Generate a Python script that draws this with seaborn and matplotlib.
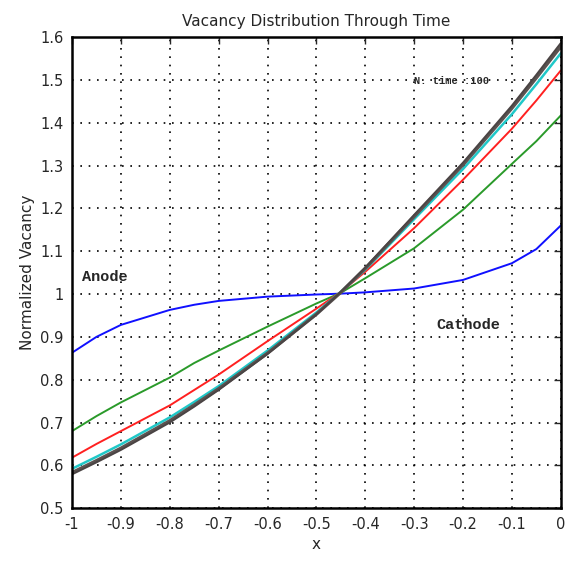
import matplotlib
matplotlib.use("Agg")
import matplotlib.pyplot as plt
import seaborn as sns
import numpy as np
import pandas as pd

x = [-1.0, -0.95, -0.9, -0.8, -0.75, -0.7, -0.6, -0.5, -0.45, -0.4, -0.3, -0.2, -0.1, -0.05, 0.0]
blue = [0.863, 0.9, 0.928, 0.963, 0.975, 0.984, 0.994, 0.999, 1.001, 1.004, 1.013, 1.033, 1.072, 1.105, 1.16]
green = [0.68, 0.715, 0.747, 0.805, 0.839, 0.868, 0.924, 0.978, 1.003, 1.037, 1.107, 1.197, 1.304, 1.357, 1.417]
red = [0.618, 0.65, 0.68, 0.74, 0.776, 0.812, 0.89, 0.966, 1.005, 1.052, 1.154, 1.267, 1.386, 1.452, 1.522]
cyan = [0.592, 0.62, 0.649, 0.712, 0.748, 0.785, 0.868, 0.957, 1.005, 1.057, 1.175, 1.292, 1.42, 1.49, 1.562]
gray1 = [0.583, 0.611, 0.64, 0.704, 0.741, 0.779, 0.862, 0.953, 1.004, 1.06, 1.181, 1.302, 1.434, 1.505, 1.578]
gray2 = [0.579, 0.607, 0.636, 0.7, 0.737, 0.776, 0.86, 0.952, 1.005, 1.062, 1.185, 1.307, 1.44, 1.512, 1.586]

series = {"blue": blue, "green": green, "red": red, "cyan": cyan, "gray1": gray1, "gray2": gray2}
colors = {"blue": "#1010ff", "green": "#2a9a2a", "red": "#ff2020", "cyan": "#20c8c8",
          "gray1": "#5a5250", "gray2": "#4a4444"}
widths = {"blue": 1.4, "green": 1.4, "red": 1.4, "cyan": 1.8, "gray1": 2.4, "gray2": 1.4}

sns.set_style("white")
plt.rcParams["font.family"] = ["DejaVu Sans"]

fig = plt.figure(figsize=(5.67, 5.71), dpi=100)
ax = fig.add_axes([0.127, 0.110, 0.862, 0.825])

for name, vals in series.items():
    df = pd.DataFrame({"x": x, "y": vals})
    sns.lineplot(data=df, x="x", y="y", ax=ax, color=colors[name], lw=widths[name], legend=False)

ax.set_xlim(-1, 0)
ax.set_ylim(0.5, 1.6)
xt = np.round(np.arange(-1, 0.001, 0.1), 1)
yt = np.round(np.arange(0.5, 1.601, 0.1), 1)
ax.set_xticks(xt)
ax.set_xticklabels(["-1", "-0.9", "-0.8", "-0.7", "-0.6", "-0.5", "-0.4", "-0.3", "-0.2", "-0.1", "0"])
ax.set_yticks(yt)
ax.set_yticklabels(["0.5", "0.6", "0.7", "0.8", "0.9", "1", "1.1", "1.2", "1.3", "1.4", "1.5", "1.6"])
ax.grid(True, color="black", linestyle=(0, (1, 4)), linewidth=1.2)
ax.tick_params(direction="in", top=True, right=True, length=5, width=1, labelsize=10.5, pad=6)
for s in ax.spines.values():
    s.set_color("black")
    s.set_linewidth(1.8)

ax.set_title("Vacancy Distribution Through Time", fontsize=11, pad=8)
ax.set_xlabel("x", fontsize=11)
ax.set_ylabel("Normalized Vacancy", fontsize=11)

ax.text(-0.98, 1.04, "Anode", fontsize=11, fontweight="bold", family="Liberation Mono", va="center")
ax.text(-0.255, 0.927, "Cathode", fontsize=11, fontweight="bold", family="Liberation Mono", va="center")
ax.text(-0.30, 1.497, "N. time :100", fontsize=7.5, fontweight="bold", family="Liberation Mono", va="center")

fig.savefig("out.png", dpi=100)
